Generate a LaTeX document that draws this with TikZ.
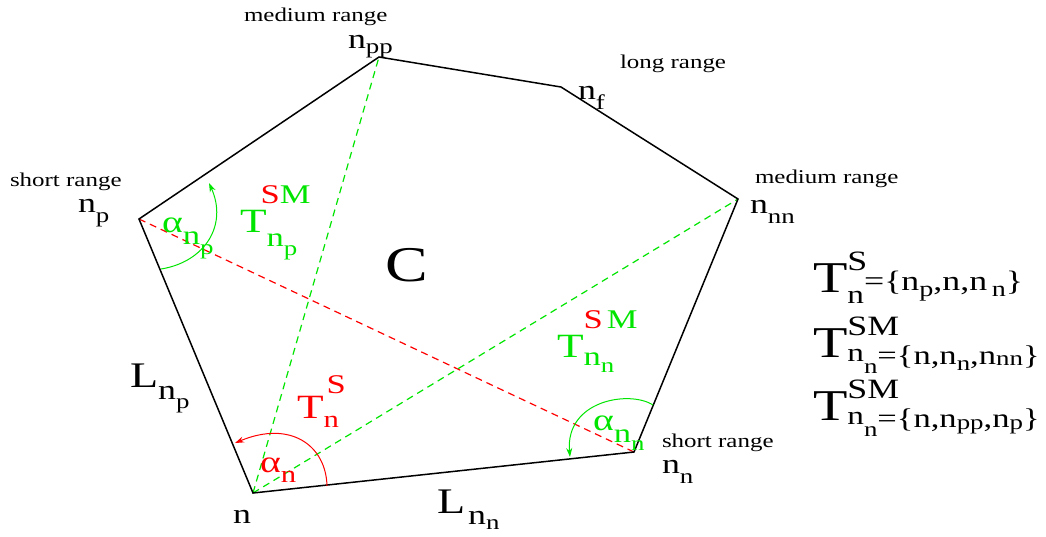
\documentclass[tikz,border=0pt]{standalone}
\usepackage{fontspec}
\setmainfont{Liberation Serif}[FakeStretch=1.28]
\usetikzlibrary{arrows.meta}
\definecolor{fgreen}{rgb}{0,0.9,0}
\definecolor{fred}{rgb}{1,0,0}
\newcommand\fs[2]{{\fontsize{#1}{#1}\selectfont #2}}
\newcommand\dn[2]{\raisebox{-#1pt}{#2}}
\newcommand\up[2]{\raisebox{#1pt}{#2}}
\tikzset{
  edge/.style={black, line width=1.5pt, line join=miter},
  diag/.style={line width=1.2pt, dash pattern=on 7pt off 5pt},
  angarrow/.style={line width=1pt, -{Stealth[length=9pt,width=6pt]}},
  lbl/.style={anchor=base west, inner sep=0pt, outer sep=0pt},
  rng/.style={lbl, font=\fontsize{19.5}{19.5}\selectfont},
}
\begin{document}
\begin{tikzpicture}[x=1pt,y=-1pt]
\useasboundingbox (0,0) rectangle (1046,536);
% vertices
\coordinate (n)   at (253,493);
\coordinate (nn)  at (634,452);
\coordinate (nnn) at (738,199);
\coordinate (nf)  at (561,87);
\coordinate (npp) at (379,57);
\coordinate (np)  at (139,219);
% arc end points
\coordinate (a1s) at (327,486);
\coordinate (a1e) at (235,443);
\coordinate (a2s) at (161,269);
\coordinate (a2e) at (209,183);
\coordinate (a3s) at (653,405);
\coordinate (a3e) at (570,457);
% diagonals
\draw[diag, fred]   (np) -- (nn);
\draw[diag, fgreen] (n) -- (npp);
\draw[diag, fgreen] (n) -- (nnn);
% polygon
\draw[edge] (n) -- (nn) -- (nnn) -- (nf) -- (npp) -- (np) -- cycle;
% angle arrows
\draw[angarrow, fred]   (a1s) .. controls (326,445) and (290,420) .. (a1e);
\draw[angarrow, fgreen] (a2s) .. controls (205,262) and (228,225) .. (a2e);
\draw[angarrow, fgreen] (a3s) .. controls (630,390) and (565,400) .. (a3e);
% range labels
\node[rng] (r1) at (10,186) {short range};
\node[rng] (r2) at (244,21) {medium range};
\node[rng] (r3) at (620,68) {long range};
\node[rng] (r4) at (755,183) {medium range};
\node[rng] (r5) at (662,447) {short range};
% vertex labels
\node[lbl] (lnp)  at (78,212)  {\fs{28}{n}\dn{10}{\fs{21}{p}}};
\node[lbl] (lnpp) at (348,48)  {\fs{28}{n}\dn{5}{\fs{21}{pp}}};
\node[lbl] (lnf)  at (578,99)  {\fs{28}{n}\dn{10}{\fs{21}{f}}};
\node[lbl] (lnnn) at (750,213) {\fs{28}{n}\dn{10}{\fs{21}{nn}}};
\node[lbl] (lnn)  at (662,473) {\fs{28}{n}\dn{10}{\fs{21}{n}}};
\node[lbl] (ln)   at (233,523) {\fs{28}{n}};
% side labels
\node[lbl] (Lnn) at (437,513) {\fs{36}{L}\hspace{3pt}\dn{11}{\fs{28}{n}\dn{5}{\fs{21}{n}}}};
\node[lbl] (Lnp) at (130,387) {\fs{36}{L}\dn{12}{\fs{28}{n}\dn{9}{\fs{21}{p}}}};
\node[inner sep=0pt] (C) at (407,265) {\fs{50}{C}};
% coloured labels
\node[lbl, text=fgreen] (anp) at (162,232) {\fs{31}{α}\dn{12}{\fs{27}{n}\dn{10}{\fs{21}{p}}}};
\node[lbl, text=fgreen] (Tnp) at (240,232) {\fs{34}{T}\rlap{\hspace{-6pt}\up{29}{\fs{27}{\textcolor{fred}{S}M}}}\dn{14}{\fs{27}{n}\dn{9}{\fs{21}{p}}}};
\node[lbl, text=fred] (TnS) at (297,418) {\fs{34}{T}\rlap{\hspace{3pt}\up{25}{\fs{27}{S}}}\dn{9}{\fs{24}{n}}};
\node[lbl, text=fred] (an) at (260,472) {\fs{31}{α}\dn{10}{\fs{24}{n}}};
\node[lbl, text=fgreen] (Tnn) at (557,357) {\fs{34}{T}\rlap{\up{29}{\fs{27}{\textcolor{fred}{S}\hspace{4pt}M}}}\dn{8}{\fs{27}{n}\dn{7}{\fs{21}{n}}}};
\node[lbl, text=fgreen] (ann) at (593,430) {\fs{31}{α}\dn{12}{\fs{27}{n}\dn{8}{\fs{21}{n}}}};
% formulas
\node[lbl] (f1) at (813,292) {\fs{44}{T}\rlap{\up{22}{\fs{28}{S}}}\dn{11}{\fs{26}{n}}\dn{-2}{\fs{28}{=\{n\dn{6}{\fs{22}{p}},n,n\,\dn{6}{\fs{22}{n}}\}}}};
\node[lbl] (f2) at (813,357) {\fs{44}{T}\rlap{\up{22}{\fs{28}{SM}}}\dn{4}{\fs{26}{n}\dn{12}{\fs{21}{n}}}\dn{7}{\fs{27}{=\{n,n\dn{6}{\fs{21}{n}},n\dn{1}{\fs{21}{nn}}\}}}};
\node[lbl] (f3) at (813,420) {\fs{44}{T}\rlap{\up{22}{\fs{28}{SM}}}\dn{4}{\fs{26}{n}\dn{12}{\fs{21}{n}}}\dn{7}{\fs{27}{=\{n,n\dn{2}{\fs{21}{pp}},n\dn{2}{\fs{21}{p}}\}}}};
\end{tikzpicture}
\end{document}
